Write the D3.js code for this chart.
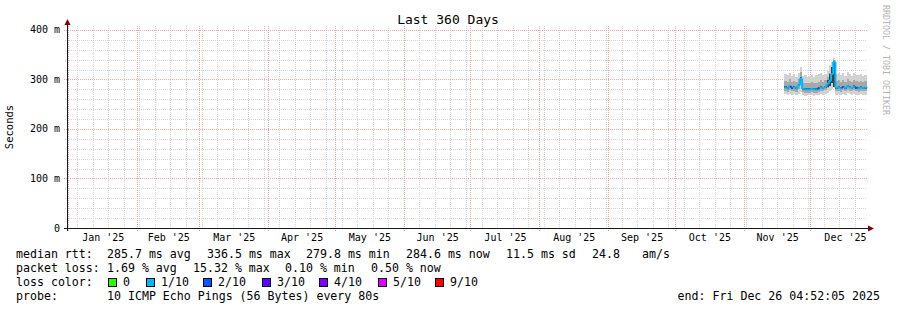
<!DOCTYPE html>
<meta charset="utf-8" />
<style>
  body { margin: 0; background: #fff; }
  svg text { font-family: "DejaVu Sans Mono", monospace; fill: #000; }
</style>
<body>
  <!-- load the d3.js library -->
  <script src="https://d3js.org/d3.v7.min.js"></script>
  <script>
    // ---- data ----
    const days = ["2025-11-19","2025-11-20","2025-11-21","2025-11-22","2025-11-23","2025-11-24","2025-11-25",
      "2025-11-26","2025-11-27","2025-11-28","2025-11-29","2025-11-30","2025-12-01","2025-12-02","2025-12-03",
      "2025-12-04","2025-12-05","2025-12-06","2025-12-07","2025-12-08","2025-12-09","2025-12-10","2025-12-11",
      "2025-12-12","2025-12-13","2025-12-14","2025-12-15","2025-12-16","2025-12-17","2025-12-18","2025-12-19",
      "2025-12-20","2025-12-21","2025-12-22","2025-12-23","2025-12-24","2025-12-25","2025-12-26"];
    // median rtt (ms)
    const median = [284,282,287,283,284,282,288,302,281,280,280,280,281,280,280,282,284,283,285,291,297,311,336,
      283,284,282,285,283,287,284,283,286,283,282,284,283,283,285];
    // outer smoke (min / max ping)
    const smokeLo = [270,269,271,268,270,269,271,274,268,267,268,268,269,267,268,269,271,269,270,273,277,280,286,
      269,270,268,271,269,272,270,269,271,269,268,270,269,269,271];
    const smokeHi = [311,309,314,308,312,306,313,326,307,309,305,308,310,306,309,311,314,309,312,318,330,336,344,
      311,314,309,313,308,315,311,308,313,310,309,312,308,310,311];
    // middle smoke
    const midLo = [277,275,279,276,277,275,280,289,274,273,273,273,274,273,273,275,277,276,278,283,288,299,317,
      276,277,275,278,276,279,277,276,279,276,275,277,276,276,278];
    const midHi = [296,294,300,295,297,294,300,316,293,293,292,293,295,292,293,295,298,295,298,305,314,324,340,
      296,298,294,298,295,301,296,294,299,296,294,297,295,296,297];
    // inner (darkest) smoke
    const coreLo = [282,280,285,281,282,280,286,296,279,278,278,278,279,278,278,280,282,281,283,284,287,292,284,
      281,282,280,283,281,285,282,281,284,281,280,282,281,281,283];
    const coreHi = [286,284,289,285,286,284,290,306,283,282,282,282,283,282,282,284,286,285,287,298,312,326,338,
      285,286,284,287,285,289,286,285,288,285,284,286,285,285,287];
    // loss in tenths per day (colour of the median)
    const loss = [1,1,1,2,1,1,1,1,1,1,1,1,1,1,1,2,1,1,1,1,1,1,1,1,1,1,2,1,1,1,1,1,2,1,1,1,1,1];

    const yTicks = [0, 100, 200, 300, 400];
    const yTickLabels = ["0", "100 m", "200 m", "300 m", "400 m"];
    const lossKeys = [0, 1, 2, 3, 4, 5, 9];
    const lossLabels = ["0", "1/10", "2/10", "3/10", "4/10", "5/10", "9/10"];
    const lossColors = ["#26ff00", "#00b8ff", "#0059ff", "#5e00ff", "#7e00ff", "#dd00ff", "#ff0000"];

    const statsRtt = ["285.7 ms avg", "336.5 ms max", "279.8 ms min", "284.6 ms now", "11.5 ms sd", "24.8", "am/s"];
    const statsLoss = ["1.69 % avg", "15.32 % max", "0.10 % min", "0.50 % now"];
    const probeText = "10 ICMP Echo Pings (56 Bytes) every 80s";
    const endText = "end: Fri Dec 26 04:52:05 2025";

    const startTime = new Date("2024-12-31T04:52:05Z"),
      endTime = new Date("2025-12-26T04:52:05Z");

    // ---- layout ----
    const W = 897, H = 310;
    const pLeft = 67, pRight = 867, pTop = 28, pBottom = 228;

    const svg = d3.select("body").append("svg")
      .attr("width", W).attr("height", H);

    const x = d3.scaleUtc().domain([startTime, endTime]).range([pLeft, pRight]);
    const y = d3.scaleLinear().domain([0, 404]).range([pBottom, pTop]);

    // grid: minor horizontal every 20 ms, major every 100
    const grid = svg.append("g").attr("shape-rendering", "crispEdges");
    d3.range(20, 404, 20).forEach(function (v) {
      if (v % 100 == 0) return;
      grid.append("line").attr("x1", pLeft - 2).attr("x2", pRight)
        .attr("y1", Math.round(y(v)) + 0.5).attr("y2", Math.round(y(v)) + 0.5)
        .attr("stroke", "#d4d4d4").attr("stroke-dasharray", "1,1");
    });
    // weekly minor verticals (sundays)
    const weeks = d3.utcSunday.range(startTime, endTime);
    weeks.forEach(function (d) {
      const xx = Math.floor(x(d)) + 0.5;
      grid.append("line").attr("x1", xx).attr("x2", xx).attr("y1", pTop - 2).attr("y2", pBottom + 2)
        .attr("stroke", "#d4d4d4").attr("stroke-dasharray", "1,1");
    });
    // month majors
    const months = d3.utcMonth.range(startTime, endTime);
    months.forEach(function (d) {
      const xx = Math.floor(x(d)) + 0.5;
      grid.append("line").attr("x1", xx).attr("x2", xx).attr("y1", pTop - 2).attr("y2", pBottom + 3)
        .attr("stroke", "#f2a0a0").attr("stroke-dasharray", "1,1");
    });
    yTicks.forEach(function (v) {
      if (v == 0) return;
      grid.append("line").attr("x1", pLeft - 3).attr("x2", pRight)
        .attr("y1", Math.round(y(v)) + 0.5).attr("y2", Math.round(y(v)) + 0.5)
        .attr("stroke", "#f2a0a0").attr("stroke-dasharray", "1,1");
    });

    // ---- smoke ----
    const pts = days.map(function (d, i) {
      return { t: new Date(d + "T00:00:00Z"), i: i };
    });
    pts.push({ t: endTime, i: days.length - 1 });

    function band(lo, hi, color) {
      svg.append("path").datum(pts)
        .attr("fill", color)
        .attr("shape-rendering", "crispEdges")
        .attr("d", d3.area().curve(d3.curveStepAfter)
          .x(function (p) { return x(p.t); })
          .y0(function (p) { return y(lo[p.i]); })
          .y1(function (p) { return y(hi[p.i]); }));
    }
    band(smokeLo, smokeHi, "#d2d2d2");
    band(midLo, midHi, "#a8a8a8");
    band(coreLo, coreHi, "#404040");

    // ---- median, coloured by loss ----
    const med = svg.append("g").attr("stroke-width", 2).attr("fill", "none");
    days.forEach(function (d, i) {
      const x0 = x(pts[i].t), x1 = x(pts[i + 1].t);
      const c = lossColors[lossKeys.indexOf(loss[i])];
      med.append("line").attr("x1", x0).attr("x2", x1)
        .attr("y1", y(median[i])).attr("y2", y(median[i])).attr("stroke", c);
      if (i > 0) {
        med.append("line").attr("x1", x0).attr("x2", x0)
          .attr("y1", y(median[i - 1])).attr("y2", y(median[i])).attr("stroke", c);
      }
    });

    // ---- axes ----
    const ax = svg.append("g").attr("shape-rendering", "crispEdges");
    ax.append("line").attr("x1", pLeft + 0.5).attr("x2", pLeft + 0.5)
      .attr("y1", pBottom + 3).attr("y2", pTop - 4).attr("stroke", "#1a1a1a");
    ax.append("line").attr("x1", pLeft - 3).attr("x2", pRight + 2)
      .attr("y1", pBottom + 0.5).attr("y2", pBottom + 0.5).attr("stroke", "#1a1a1a");
    svg.append("path").attr("fill", "#7f0000")
      .attr("d", "M" + (pLeft - 2.5) + "," + (pTop - 3) + "L" + (pLeft + 0.5) + "," + (pTop - 9) + "L" + (pLeft + 3.5) + "," + (pTop - 3) + "Z");
    svg.append("path").attr("fill", "#7f0000")
      .attr("d", "M" + (pRight + 1) + "," + (pBottom - 2.5) + "L" + (pRight + 7) + "," + (pBottom + 0.5) + "L" + (pRight + 1) + "," + (pBottom + 3.5) + "Z");

    // y labels
    svg.append("g").selectAll("text").data(yTicks).join("text")
      .attr("x", 60).attr("y", function (d) { return y(d) + 3.5; })
      .attr("text-anchor", "end").attr("font-size", "10px")
      .text(function (d, i) { return yTickLabels[i]; });

    // month labels, centred in the month
    svg.append("g").selectAll("text").data(months).join("text")
      .attr("x", function (d) {
        return (x(d) + x(d3.utcMonth.offset(d, 1))) / 2;
      })
      .attr("y", 241).attr("text-anchor", "middle").attr("font-size", "10px")
      .text(function (d) { return d3.utcFormat("%b '%y")(d); });

    // title, y title, watermark
    svg.append("text").attr("x", 448).attr("y", 23.5).attr("text-anchor", "middle")
      .attr("font-size", "13px").text("Last 360 Days");
    svg.append("text").attr("transform", "translate(13,127) rotate(-90)")
      .attr("text-anchor", "middle").attr("font-size", "10.5px").text("Seconds");
    svg.append("text").attr("transform", "translate(883,5) rotate(90)")
      .attr("font-size", "8.3px").style("fill", "#b4b4b4").text("RRDTOOL / TOBI OETIKER");

    // ---- legend ----
    const lg = svg.append("g").attr("font-size", "11.6px");
    lg.append("text").attr("x", 16).attr("y", 258).text("median rtt:");
    const rttX = [107, 207, 306, 406, 506, 592, 642];
    statsRtt.forEach(function (s, i) {
      lg.append("text").attr("x", rttX[i]).attr("y", 258).text(s);
    });
    lg.append("text").attr("x", 16).attr("y", 272).text("packet loss:");
    const lossX = [107, 193, 285, 371];
    statsLoss.forEach(function (s, i) {
      lg.append("text").attr("x", lossX[i]).attr("y", 272).text(s);
    });
    lg.append("text").attr("x", 16).attr("y", 286).text("loss color:");
    const boxX = [108, 146, 203, 262, 319, 378, 435];
    lossLabels.forEach(function (s, i) {
      lg.append("rect").attr("x", boxX[i] + 0.5).attr("y", 278.5).attr("width", 8).attr("height", 8)
        .attr("fill", lossColors[i]).attr("stroke", "#000").attr("shape-rendering", "crispEdges");
      lg.append("text").attr("x", boxX[i] + 15).attr("y", 286).text(s);
    });
    lg.append("text").attr("x", 16).attr("y", 300).text("probe:");
    lg.append("text").attr("x", 107).attr("y", 300).text(probeText);
    lg.append("text").attr("x", 880).attr("y", 300).attr("text-anchor", "end").text(endText);
  </script>
</body>
